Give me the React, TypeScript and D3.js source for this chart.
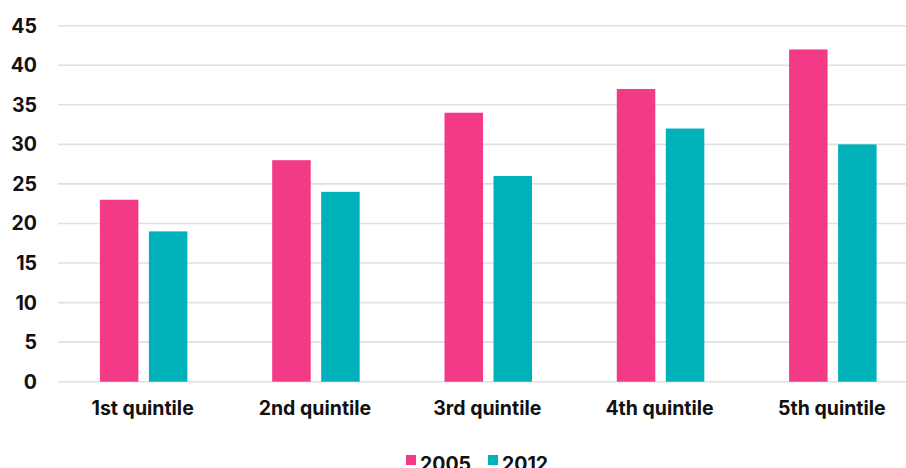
import React from "react";
import * as d3 from "d3";

const categories = ["1st quintile", "2nd quintile", "3rd quintile", "4th quintile", "5th quintile"];
const seriesNames = ["2005", "2012"];
const values2005 = [23, 28, 34, 37, 42];
const values2012 = [19, 24, 26, 32, 30];
const yTicks = [0, 5, 10, 15, 20, 25, 30, 35, 40, 45];

const colors = ["#F33A87", "#00B1BA"];
const W = 906;
const H = 468;
const FONT = "Inter, 'Noto Sans', sans-serif";

export default function App() {
  const series = [values2005, values2012];
  const x = d3.scaleBand<string>().domain(categories).range([57.5, 919]).paddingInner(0).paddingOuter(0);
  const y = d3.scaleLinear().domain([0, 45]).range([381.7, 25.7]);
  const barW = 38.5;
  const gap = 10.5;

  return (
    <svg width={W} height={H} style={{ position: "absolute", left: 0, top: 0, background: "#fff" }}>
      {yTicks.map((t) => (
        <g key={t}>
          <line x1={58} x2={W} y1={y(t)} y2={y(t)} stroke="#e0e0e0" strokeWidth={1.6} />
          <text
            x={37}
            y={y(t)}
            dy="0.36em"
            textAnchor="end"
            fontFamily={FONT}
            fontWeight={700}
            fontSize={19.5}
            fill="#111"
          >
            {t}
          </text>
        </g>
      ))}
      {categories.map((c, i) => {
        const cx = (x(c) as number) + x.bandwidth() / 2;
        const start = cx - (2 * barW + gap) / 2;
        return (
          <g key={c}>
            {series.map((s, k) => (
              <rect
                key={k}
                x={start + k * (barW + gap)}
                y={y(s[i])}
                width={barW}
                height={y(0) - y(s[i])}
                fill={colors[k]}
              />
            ))}
            <text
              x={cx - 1}
              y={414.5}
              textAnchor="middle"
              fontFamily={FONT}
              fontWeight={700}
              fontSize={19.5}
              fill="#111"
            >
              {c}
            </text>
          </g>
        );
      })}
      {seriesNames.map((n, k) => {
        const lx = [406, 488][k];
        return (
          <g key={n}>
            <rect x={lx} y={455} width={10} height={10} fill={colors[k]} />
            <text x={lx + 14} y={470.5} fontFamily={FONT} fontWeight={700} fontSize={19.5} fill="#111">
              {n}
            </text>
          </g>
        );
      })}
    </svg>
  );
}
